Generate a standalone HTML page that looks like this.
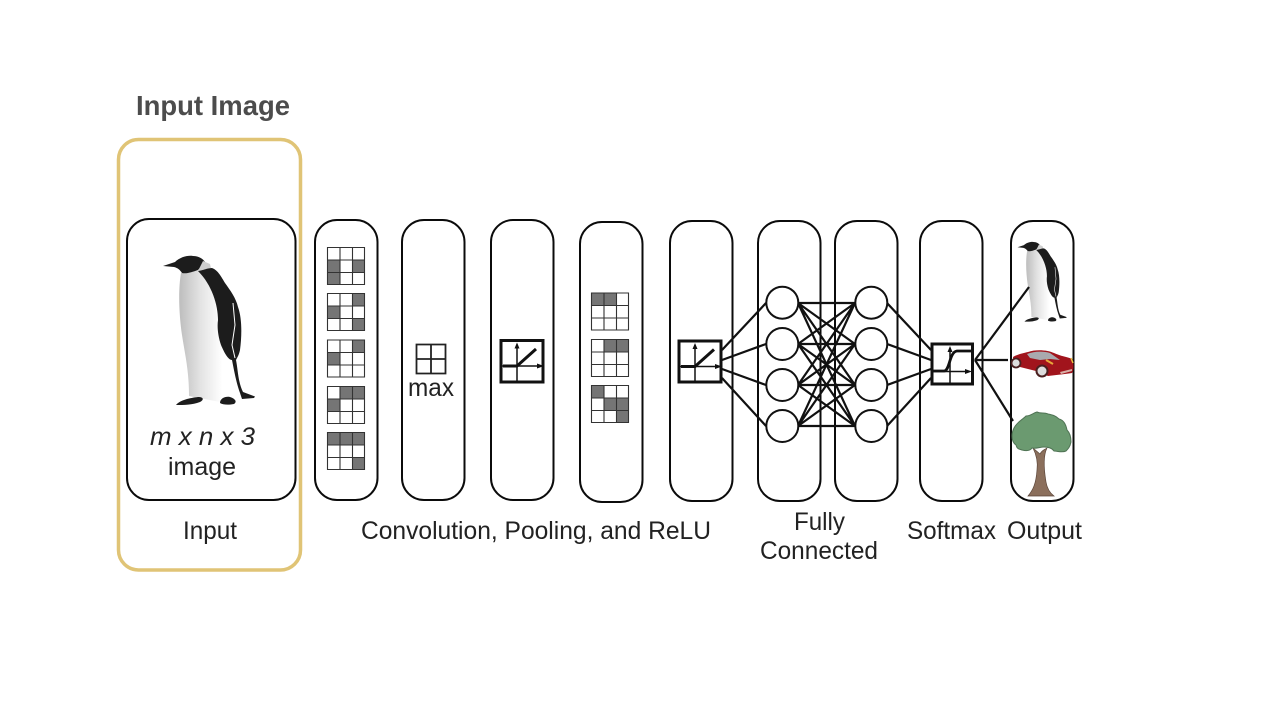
<!DOCTYPE html>
<html><head><meta charset="utf-8"><style>
html,body{margin:0;padding:0;background:#fff;width:1280px;height:720px;overflow:hidden}
svg{display:block}
text{font-family:"Liberation Sans",sans-serif;fill:#222;font-size:25px}
</style></head><body>
<svg width="1280" height="720" viewBox="0 0 1280 720" xmlns="http://www.w3.org/2000/svg">
<defs>
<linearGradient id="pg" x1="0" x2="1" y1="0" y2="0"><stop offset="0" stop-color="#bdbdbd"/><stop offset=".4" stop-color="#e2e2e2"/><stop offset=".85" stop-color="#fff"/></linearGradient>
<g id="penguin">
<path d="M181 273C178 290 179 315 182 335C185 355 189 370 189 396L220 402L230 393L228 358L218 327L214 290L198 270Z" fill="url(#pg)"/>
<path d="M163 266L175 262C180 257 188 255 193 256C199 256 203 259 205 262L198 270C192 272 187 274 182 273C180 270 178 268 174 267Z" fill="#1c1c1c"/>
<path d="M198 271L203 261L210 264L211 268Z" fill="#cfcfcf"/>
<path d="M198 271C204 270 208 268 212 268C218 270 222 278 225 283C230 290 236 298 238 307C242 318 242 335 240 350C239 355 237 358 236 360C238 370 238 382 243 392L255 396.500L254 398L242 399L240 393C236 382 234 370 232 360C228 360 224 352 221 345C218 336 217 327 218 320C218 305 212 285 198 271Z" fill="#1c1c1c"/>
<path d="M233 303L235 325L232 345L235 358" fill="none" stroke="#fff" stroke-width="1"/>
<path d="M176 405C180 400 190 398 198 397C204 397 204 400 200 402C192 405 184 405 176 405ZM220 403C220 398 226 396 230 397C236 399 237 402 234 404C229 405 223 405 220 403Z" fill="#1c1c1c"/>
</g>
<g id="reluic" fill="none" stroke="#111">
<path d="M0 26.500H38" stroke-width="1.500"/><path d="M17 43V5" stroke-width="1.500"/>
<path d="M44 26.500l-7-2.500v5zM17 3l-2.500 6h5z" fill="#111" stroke="none"/>
<path d="M3 26.500H17L36 9.500" stroke-width="3"/>
</g>
</defs>

<rect x="118.500" y="139.500" width="182" height="430.500" rx="20" fill="none" stroke="#e0c476" stroke-width="3.500"/>

<g fill="#fff" stroke="#0b0b0b" stroke-width="2">
<rect x="127" y="219" width="168.500" height="281" rx="22"/>
<rect x="315" y="220" width="62.500" height="280" rx="22"/>
<rect x="402" y="220" width="62.500" height="280" rx="22"/>
<rect x="491" y="220" width="62.500" height="280" rx="22"/>
<rect x="580" y="222" width="62.500" height="280" rx="22"/>
<rect x="670" y="221" width="62.500" height="280" rx="22"/>
<rect x="758" y="221" width="62.500" height="280" rx="22"/>
<rect x="835" y="221" width="62.500" height="280" rx="22"/>
<rect x="920" y="221" width="62.500" height="280" rx="22"/>
<rect x="1011" y="221" width="62.500" height="280" rx="22"/>
</g>

<use href="#penguin"/>

<!-- conv grids -->
<g fill="#757575">
<rect x="327" y="259.500" width="13" height="25.500"/><rect x="352.500" y="259.500" width="12.500" height="13"/>
<rect x="352.500" y="293" width="12.500" height="13"/><rect x="327" y="306" width="13" height="12.500"/><rect x="352.500" y="318.500" width="12.500" height="12.500"/>
<rect x="352.500" y="340" width="12.500" height="12.500"/><rect x="327" y="352.500" width="13" height="12.500"/>
<rect x="340" y="386" width="25" height="12.500"/><rect x="327" y="398.500" width="13" height="12.500"/>
<rect x="327" y="432" width="38" height="12.500"/><rect x="352.500" y="457" width="12.500" height="12.500"/>
<rect x="591.500" y="293" width="25" height="12.500"/>
<rect x="604" y="339" width="25" height="12.500"/>
<rect x="591.500" y="385.500" width="12.500" height="12.500"/><rect x="604" y="398" width="25" height="12.500"/><rect x="616.500" y="410.500" width="12.500" height="12.500"/>
</g>
<path fill="none" stroke="#333" stroke-width="1.100" d="M327.500 247.500h37v37h-37zM327.500 260h37M327.500 272.500h37M340 247.500v37M352.500 247.500v37
M327.500 293.500h37v37h-37zM327.500 306h37M327.500 318.500h37M340 293.500v37M352.500 293.500v37
M327.500 340h37v37h-37zM327.500 352.500h37M327.500 365h37M340 340v37M352.500 340v37
M327.500 386.500h37v37h-37zM327.500 399h37M327.500 411.500h37M340 386.500v37M352.500 386.500v37
M327.500 432.500h37v37h-37zM327.500 445h37M327.500 457.500h37M340 432.500v37M352.500 432.500v37
M591.500 293h37v37h-37zM591.500 305.500h37M591.500 318h37M604 293v37M616.500 293v37
M591.500 339.500h37v37h-37zM591.500 352h37M591.500 364.500h37M604 339.500v37M616.500 339.500v37
M591.500 385.500h37v37h-37zM591.500 398h37M591.500 410.500h37M604 385.500v37M616.500 385.500v37"/>

<!-- max -->
<path fill="none" stroke="#222" stroke-width="1.800" d="M416.500 344.500h29v29h-29zM416.500 359h29M431 344.500v29"/>

<!-- relu boxes -->
<rect x="501" y="340.500" width="42" height="41.500" fill="#fff" stroke="#111" stroke-width="3"/>
<use href="#reluic" x="500" y="339.500"/>
<rect x="679" y="341" width="42" height="41" fill="#fff" stroke="#111" stroke-width="3"/>
<use href="#reluic" x="678" y="340"/>

<!-- FC connections -->
<g stroke="#111" stroke-width="2.200" fill="none">
<path d="M722 350L766 303M722 360L766 344M722 369L766 385M722 378L766 426"/>
<path d="M798 303H855M798 344H855M798 385H855M798 426H855
M798 303L855 344M798 303L855 385M798 303L855 426
M798 344L855 303M798 344L855 385M798 344L855 426
M798 385L855 303M798 385L855 344M798 385L855 426
M798 426L855 303M798 426L855 344M798 426L855 385"/>
<path d="M887 303L931 350M887 344L931 360M887 385L931 369M887 426L931 378"/>
</g>
<g fill="#fff" stroke="#111" stroke-width="2">
<circle cx="782.300" cy="302.700" r="16"/><circle cx="782.300" cy="344" r="16"/><circle cx="782.300" cy="385" r="16"/><circle cx="782.300" cy="426" r="16"/>
<circle cx="871.300" cy="302.700" r="16"/><circle cx="871.300" cy="344" r="16"/><circle cx="871.300" cy="385" r="16"/><circle cx="871.300" cy="426" r="16"/>
</g>

<!-- softmax -->
<rect x="932" y="344" width="40.500" height="40" fill="#fff" stroke="#111" stroke-width="3"/>
<path d="M932 371.500H968M950 385V350" stroke="#111" stroke-width="1.500" fill="none"/>
<path d="M972 371.500l-7-2.500v5zM950 346l-2.500 6h5z" fill="#111"/>
<path d="M933 371H944C950 371 949 352 957 351H973" fill="none" stroke="#111" stroke-width="2.800"/>

<!-- output items -->
<use href="#penguin" transform="translate(930.300 105) scale(.535)"/>
<!-- car -->
<path d="M1013 357C1018 354 1024 353 1028 352C1036 349 1048 350 1054 353C1060 356 1068 357 1072 359C1074 363 1074 370 1072 373C1066 374 1056 375 1048 376L1036 371L1020 367L1014 365Z" fill="#a1141c"/>
<path d="M1027 354C1034 351 1044 351 1050 353L1060 360L1050 359L1040 360L1030 358Z" fill="#a9a9ae"/>
<path d="M1060 372L1072 369V371L1061 374Z" fill="#d9b0a8"/>
<circle cx="1016" cy="363" r="4.500" fill="#ddd" stroke="#4a2020" stroke-width="1.800"/>
<circle cx="1042" cy="371" r="5.500" fill="#ddd" stroke="#4a2020" stroke-width="2"/>
<path d="M1046 360l7 4" stroke="#e8a83a" stroke-width="2"/>
<path d="M1071 358l2 5" stroke="#f0c040" stroke-width="1.500"/>
<!-- tree -->
<path d="M1033 448L1040 454C1042 450 1044 450 1047 448C1043 456 1044 470 1046 482C1047 488 1050 493 1054 496H1028C1033 490 1036 484 1037 470C1038 462 1036 454 1033 448Z" fill="#8b6f5c" stroke="#5c463a" stroke-width=".7"/>
<g fill="#6b9a70" stroke="#4f7354" stroke-width="1">
<path d="M1014 428C1017 422 1022 420 1026 416C1031 416 1033 413 1037 412C1041 414 1044 412 1048 414C1053 415 1056 416 1059 419C1064 420 1066 425 1067 430C1070 433 1071 438 1071 442C1070 447 1068 449 1066 451C1062 453 1058 451 1054 451C1052 448 1048 447 1044 447C1040 447 1036 449 1032 448C1030 451 1026 451 1022 450C1019 449 1017 449 1016 445C1013 443 1012 439 1012 436C1012 433 1013 430 1014 428Z"/>
</g>

<!-- softmax out -->
<path d="M975 360L1029 287M975 360H1008M975 360L1013 421" stroke="#111" stroke-width="2.200" fill="none"/>

<!-- labels -->
<text x="136" y="115" style="font-size:28px;fill:#4c4c4c;font-weight:700" textLength="154" lengthAdjust="spacingAndGlyphs">Input Image</text>
<text x="150" y="445" font-style="italic" textLength="105" lengthAdjust="spacingAndGlyphs" style="font-size:25px">m x n x 3</text>
<text x="168" y="475" textLength="68" lengthAdjust="spacingAndGlyphs">image</text>
<text x="408" y="396" textLength="46" lengthAdjust="spacingAndGlyphs">max</text>
<text x="183" y="539" textLength="54" lengthAdjust="spacingAndGlyphs">Input</text>
<text x="361" y="539" textLength="350" lengthAdjust="spacingAndGlyphs">Convolution, Pooling, and ReLU</text>
<text x="794" y="530" textLength="51" lengthAdjust="spacingAndGlyphs">Fully</text>
<text x="760" y="559" textLength="118" lengthAdjust="spacingAndGlyphs">Connected</text>
<text x="907" y="539" textLength="89" lengthAdjust="spacingAndGlyphs">Softmax</text>
<text x="1007" y="539" textLength="75" lengthAdjust="spacingAndGlyphs">Output</text>
</svg>
</body></html>
